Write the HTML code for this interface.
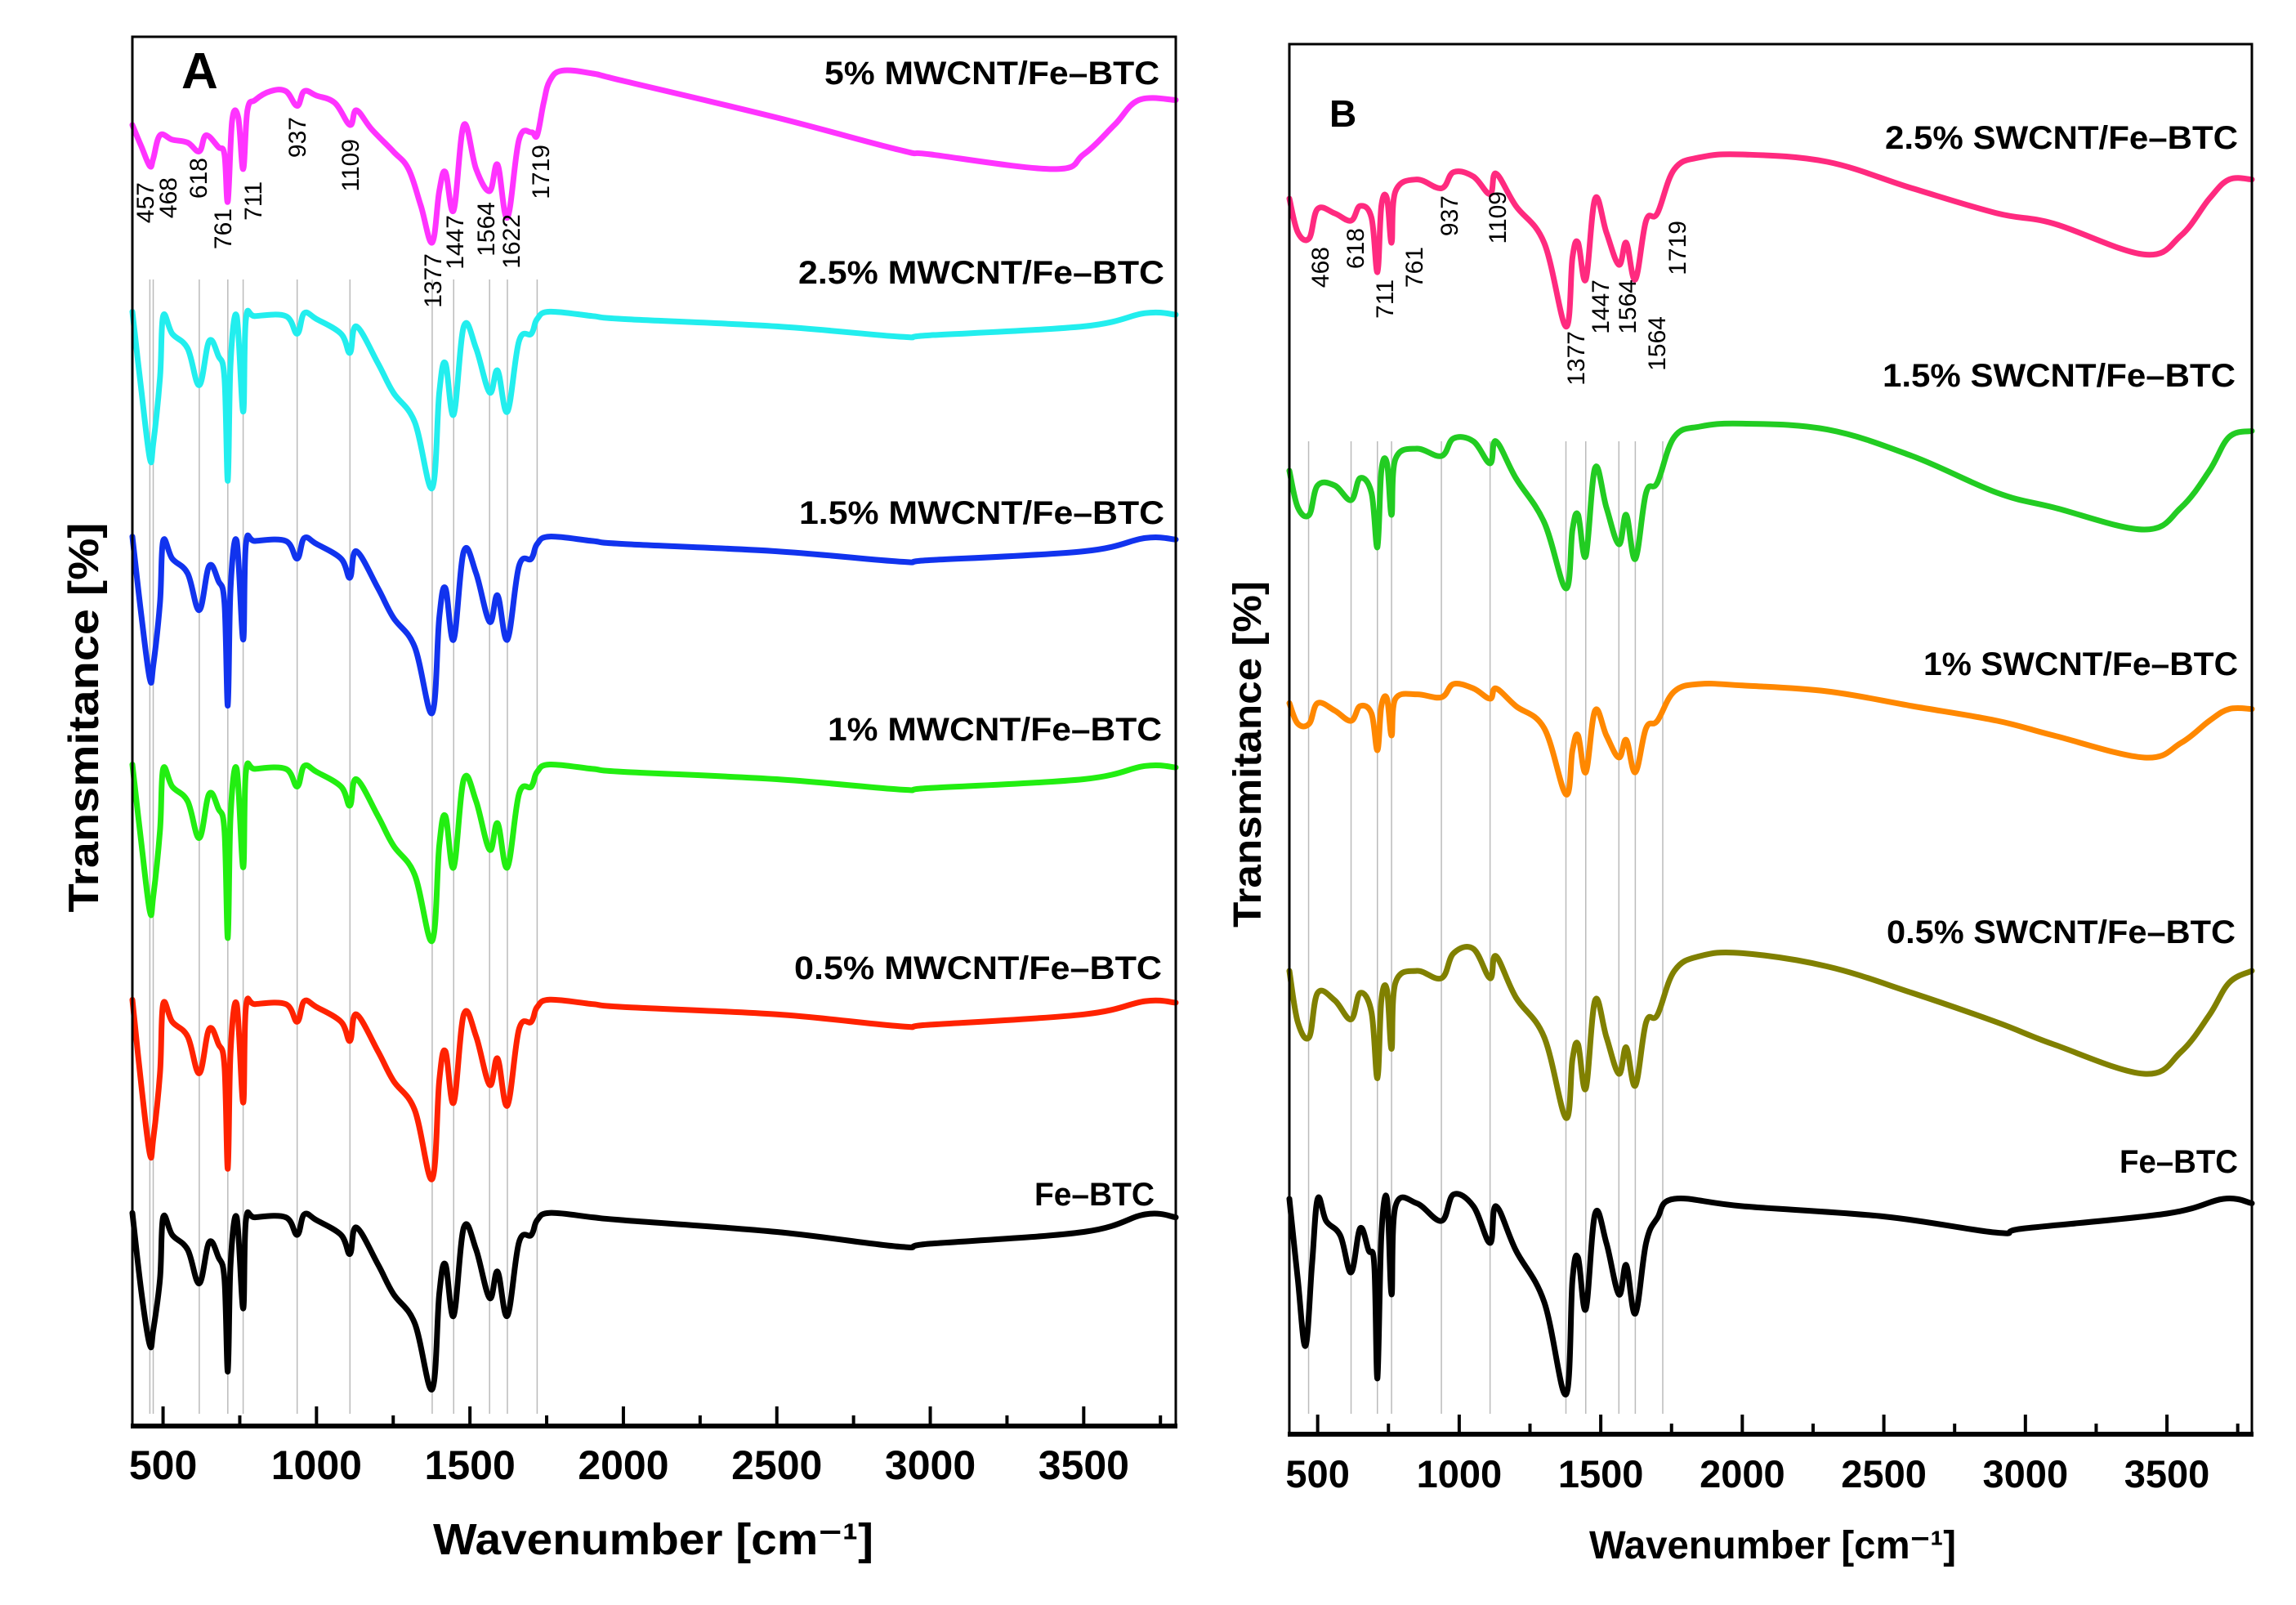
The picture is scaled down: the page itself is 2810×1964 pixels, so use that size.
<!DOCTYPE html>
<html><head><meta charset="utf-8"><style>
html,body{margin:0;padding:0;background:#fff;}
svg{display:block;}
text{font-family:"Liberation Sans",sans-serif;}
</style></head><body>
<svg id="fig" width="2810" height="1964" viewBox="0 0 2810 1964" xmlns="http://www.w3.org/2000/svg">
  <g id="panelA"></g>
  <g id="panelB"></g>
</svg>
<script>
// ---------- shared x data ----------
const xTicksMajor = [500,1000,1500,2000,2500,3000,3500];
const xTicksMinor = [750,1250,1750,2250,2750,3250,3750];
const refLinesA = [457,468,618,711,761,937,1109,1377,1447,1564,1622,1719];
const refLinesB = [468,618,711,761,937,1109,1377,1447,1564,1622,1719];

// ---------- Panel A (MWCNT) : relative transmittance (a.u.) + stack offsets ----------
const wnA = [400,430,457,468,490,500,530,580,618,650,680,700,711,720,740,761,770,800,900,937,960,1000,1080,1109,1130,1200,1250,1320,1377,1400,1420,1447,1480,1520,1564,1590,1622,1660,1700,1719,1760,1900,2000,2500,2900,3000,3500,3700,3800];
const feBtcA   = [0,-55,-90,-80,-45,-3,-15,-25,-48,-20,-30,-45,-108,-35,-3,-65,-5,-3,-3,-15,-1,-5,-15,-28,-10,-35,-55,-75,-120,-55,-35,-70,-10,-25,-58,-40,-70,-20,-15,-5,0,-3,-5,-13,-23,-21,-13,-1,-3];
const mw05A    = [0,-60,-105,-95,-50,-3,-15,-25,-50,-20,-30,-45,-115,-35,-3,-70,-5,-3,-3,-15,-1,-5,-15,-28,-10,-35,-55,-75,-122,-55,-35,-70,-10,-25,-58,-40,-72,-20,-15,-5,0,-3,-5,-10,-18,-17,-10,-1,-2];
const mw1A     = [0,-55,-100,-90,-45,-3,-15,-25,-50,-20,-30,-45,-118,-35,-3,-70,-5,-3,-3,-15,-1,-5,-15,-28,-10,-35,-55,-75,-120,-55,-35,-70,-10,-25,-58,-40,-70,-20,-15,-5,0,-3,-5,-10,-17,-16,-10,-1,-2];
const mw15A    = [0,-55,-97,-88,-45,-3,-15,-25,-50,-20,-30,-45,-115,-35,-3,-70,-5,-3,-3,-15,-1,-5,-15,-28,-10,-35,-55,-75,-120,-55,-35,-70,-10,-25,-58,-40,-70,-20,-15,-5,0,-3,-5,-10,-17,-16,-10,-1,-2];
const mw25A    = [0,-55,-100,-90,-45,-3,-15,-25,-50,-20,-30,-45,-115,-35,-3,-68,-5,-3,-3,-15,-1,-5,-15,-28,-10,-35,-55,-75,-120,-55,-35,-70,-10,-25,-55,-40,-68,-20,-15,-5,0,-3,-5,-10,-17,-16,-10,-1,-2];
const wnA5 = [400,430,457,468,490,530,580,618,640,680,700,711,725,745,761,775,800,850,900,937,960,1000,1060,1109,1130,1180,1250,1300,1340,1377,1400,1420,1447,1480,1520,1564,1590,1622,1660,1700,1719,1740,1760,1800,1900,2000,2500,2900,3000,3400,3500,3600,3680,3800];
const mw5A     = [-35,-50,-63,-58,-42,-45,-47,-53,-42,-50,-55,-87,-32,-30,-65,-25,-18,-12,-12,-22,-12,-15,-20,-35,-25,-38,-53,-65,-90,-115,-80,-67,-93,-35,-65,-80,-62,-98,-45,-40,-42,-20,-5,2,0,-5,-30,-52,-55,-65,-55,-35,-18,-18];
const seriesA = [
  {name:'fe-btc',      label:'Fe\u2013BTC',            color:'#000000', wn:wnA,  v:feBtcA, off:145},
  {name:'mwcnt-0-5',   label:'0.5% MWCNT/Fe\u2013BTC', color:'#ff2200', wn:wnA,  v:mw05A,  off:290},
  {name:'mwcnt-1',     label:'1% MWCNT/Fe\u2013BTC',   color:'#22ee11', wn:wnA,  v:mw1A,   off:450},
  {name:'mwcnt-1-5',   label:'1.5% MWCNT/Fe\u2013BTC', color:'#1133ee', wn:wnA,  v:mw15A,  off:605},
  {name:'mwcnt-2-5',   label:'2.5% MWCNT/Fe\u2013BTC', color:'#22eeee', wn:wnA,  v:mw25A,  off:758},
  {name:'mwcnt-5',     label:'5% MWCNT/Fe\u2013BTC',   color:'#ff33ff', wn:wnA5, v:mw5A,   off:920}
];

// ---------- Panel B (SWCNT) : absolute transmittance (a.u.) ----------
const wnBfe = [400,430,457,480,500,530,580,618,650,680,700,711,725,745,761,775,850,937,980,1050,1109,1130,1200,1300,1377,1400,1420,1447,1480,1520,1564,1590,1622,1660,1700,1760,2000,2500,2900,3000,3500,3700,3800];
const feBtcB = [160,105,60,115,160,145,135,110,140,125,115,38,135,160,95,155,157,145,163,155,130,155,125,90,27,105,120,85,150,130,95,115,82,130,147,160,155,148,137,140,150,160,157];
const wnB = [400,430,470,500,560,618,650,690,711,725,745,761,775,850,937,980,1050,1109,1130,1200,1300,1377,1400,1420,1447,1480,1520,1564,1590,1622,1660,1700,1760,1850,2000,2300,2600,2900,3100,3420,3550,3650,3720,3800];
const sw05B = [315,280,270,300,295,282,300,287,242,295,302,262,307,315,310,327,330,310,325,297,270,215,255,265,235,295,270,245,263,237,280,285,315,325,327,318,300,280,265,245,260,285,307,315];
const sw1B  = [497,483,483,497,492,485,495,490,465,495,500,475,500,503,501,510,507,500,507,495,480,435,465,475,450,492,475,460,472,450,480,485,505,510,509,505,495,485,475,460,470,485,493,493];
const sw15B = [655,630,625,645,645,635,650,640,603,655,660,625,663,670,665,677,675,660,675,650,620,575,615,625,597,657,630,605,625,595,640,647,678,685,687,683,665,640,630,615,630,655,678,682];
const sw25B = [840,817,813,833,830,825,835,827,790,835,840,810,845,853,847,858,855,843,857,835,810,753,800,810,785,840,817,795,810,785,825,830,860,868,870,865,847,830,823,802,815,840,853,853];
const seriesB = [
  {name:'fe-btc',     label:'Fe\u2013BTC',            color:'#000000', wn:wnBfe, v:feBtcB},
  {name:'swcnt-0-5',  label:'0.5% SWCNT/Fe\u2013BTC', color:'#808000', wn:wnB,   v:sw05B},
  {name:'swcnt-1',    label:'1% SWCNT/Fe\u2013BTC',   color:'#ff8800', wn:wnB,   v:sw1B},
  {name:'swcnt-1-5',  label:'1.5% SWCNT/Fe\u2013BTC', color:'#22cc22', wn:wnB,   v:sw15B},
  {name:'swcnt-2-5',  label:'2.5% SWCNT/Fe\u2013BTC', color:'#ff2a7f', wn:wnB,   v:sw25B}
];

const NS='http://www.w3.org/2000/svg';
function mk(parent, tag, attrs, txt){
  const e=document.createElementNS(NS,tag);
  for(const k in attrs) e.setAttribute(k,attrs[k]);
  if(txt!==undefined) e.textContent=txt;
  parent.appendChild(e); return e;
}
function lin(d0,d1,r0,r1){return v=>r0+(v-d0)/(d1-d0)*(r1-r0);}
function smoothPath(pts){
  let d='M'+pts[0][0].toFixed(1)+','+pts[0][1].toFixed(1);
  for(let i=0;i<pts.length-1;i++){
    const p0=pts[Math.max(0,i-1)],p1=pts[i],p2=pts[i+1],p3=pts[Math.min(pts.length-1,i+2)];
    const t=0.18;
    const c1x=p1[0]+(p2[0]-p0[0])*t, c1y=p1[1]+(p2[1]-p0[1])*t;
    const c2x=p2[0]-(p3[0]-p1[0])*t, c2y=p2[1]-(p3[1]-p1[1])*t;
    d+=' C'+c1x.toFixed(1)+','+c1y.toFixed(1)+' '+c2x.toFixed(1)+','+c2y.toFixed(1)+' '+p2[0].toFixed(1)+','+p2[1].toFixed(1);
  }
  return d;
}

function drawPanel(g, cfg){
  const X=lin(400,3800,cfg.left,cfg.right);
  const Y=lin(0,945,cfg.bottom,cfg.top);
  // reference lines
  cfg.refs.forEach(w=>{
    const l=mk(g,'line',{x1:X(w),x2:X(w),y1:cfg.refTop,y2:cfg.refBot,stroke:'#bbbbbb','stroke-width':1.5});
    
    
  });
  // series
  cfg.series.forEach(s=>{
    const pts=s.wn.map((w,i)=>[X(w),Y((s.off||0)+s.v[i])]);
    const p=mk(g,'path',{d:smoothPath(pts),fill:'none',stroke:s.color,'stroke-width':7,'stroke-linejoin':'round','stroke-linecap':'round'});
    
    
  });
  // frame
  const fr=mk(g,'rect',{x:cfg.left,y:cfg.top,width:cfg.right-cfg.left,height:cfg.bottom-cfg.top,fill:'none',stroke:'#000','stroke-width':3});
  
  
  const ax=mk(g,'line',{x1:cfg.left-2,x2:cfg.right+2,y1:cfg.bottom,y2:cfg.bottom,stroke:'#000','stroke-width':6});
  
  
  xTicksMajor.forEach(t=>{
    const l=mk(g,'line',{x1:X(t),x2:X(t),y1:cfg.bottom,y2:cfg.bottom-24,stroke:'#000','stroke-width':4});
    
    
    const tl=mk(g,'text',{x:X(t),y:cfg.tickY,'text-anchor':'middle','font-size':cfg.tickFs,'font-weight':'bold',fill:'#000'},String(t));
    
    
  });
  xTicksMinor.forEach(t=>{
    const l=mk(g,'line',{x1:X(t),x2:X(t),y1:cfg.bottom,y2:cfg.bottom-13,stroke:'#000','stroke-width':4});
    
    
  });
}

const gA=document.getElementById('panelA');
drawPanel(gA,{left:162,right:1439,top:45,bottom:1745,refs:refLinesA,refTop:342,refBot:1730,series:seriesA,tickY:1810,tickFs:50});
const gB=document.getElementById('panelB');
drawPanel(gB,{left:1578,right:2756,top:54,bottom:1755,refs:refLinesB,refTop:540,refBot:1730,series:seriesB,tickY:1820,tickFs:47});
</script>
<svg width="0" height="0" style="position:absolute"></svg>
<script>
// static text annotations
(function(){
  const NS='http://www.w3.org/2000/svg';
  const svg=document.getElementById('fig');
  function t(attrs,txt,name){
    const e=document.createElementNS(NS,'text');
    for(const k in attrs) e.setAttribute(k,attrs[k]);
    e.textContent=txt;
    
    
    svg.appendChild(e); return e;
  }
  // sample labels A
  [['5% MWCNT/Fe\u2013BTC',1009,1419,103],['2.5% MWCNT/Fe\u2013BTC',977,1425,347],['1.5% MWCNT/Fe\u2013BTC',978,1425,641],
   ['1% MWCNT/Fe\u2013BTC',1013,1422,906],['0.5% MWCNT/Fe\u2013BTC',972,1422,1198],['Fe\u2013BTC',1266,1413,1475]].forEach((a,i)=>{
    t({x:a[1],y:a[3],'font-size':40,'font-weight':'bold',textLength:a[2]-a[1],lengthAdjust:'spacingAndGlyphs'},a[0],'series-label-a-'+i);
  });
  [['2.5% SWCNT/Fe\u2013BTC',2307,2739,182],['1.5% SWCNT/Fe\u2013BTC',2304,2736,473],['1% SWCNT/Fe\u2013BTC',2354,2739,826],
   ['0.5% SWCNT/Fe\u2013BTC',2309,2736,1154],['Fe\u2013BTC',2594,2739,1435]].forEach((a,i)=>{
    t({x:a[1],y:a[3],'font-size':40,'font-weight':'bold',textLength:a[2]-a[1],lengthAdjust:'spacingAndGlyphs'},a[0],'series-label-b-'+i);
  });
  // peak labels
  [['457',177,223],['468',205,217],['618',242,193],['761',272,255],['711',309,222],['937',363,143],['1109',428,170],
   ['1377',529,310],['1447',556,263],['1564',594,247],['1622',625,262],['1719',661,177],
   ['468',1615,302],['618',1658,279],['711',1694,342],['761',1730,302],['937',1773,239],['1109',1832,234],
   ['1377',1928,405],['1447',1958,342],['1564',1991,342],['1564',2027,387],['1719',2052,270]].forEach((a,i)=>{
    const bx=a[1]+11, ty=a[2];
    t({x:bx,y:ty,'font-size':30,'text-anchor':'end',transform:'rotate(-90 '+bx+' '+ty+')'},a[0],'peak-label-'+a[0]+'-'+i);
  });
  t({x:222,y:108,'font-size':62,'font-weight':'bold'},'A','panel-a-letter');
  t({x:1627,y:155,'font-size':46,'font-weight':'bold'},'B','panel-b-letter');
  t({x:120,y:878,'font-size':52,'font-weight':'bold','text-anchor':'middle',textLength:477,lengthAdjust:'spacingAndGlyphs',transform:'rotate(-90 120 878)'},'Transmitance [%]','y-axis-title-a');
  t({x:1543,y:923,'font-size':48,'font-weight':'bold','text-anchor':'middle',textLength:424,lengthAdjust:'spacingAndGlyphs',transform:'rotate(-90 1543 923)'},'Transmitance [%]','y-axis-title-b');
  const xa=t({x:530,y:1902,'font-size':54,'font-weight':'bold',textLength:539,lengthAdjust:'spacingAndGlyphs'},'Wavenumber [cm\u207B\u00B9]','x-axis-title-a');
  const xb=t({x:1945,y:1907,'font-size':48,'font-weight':'bold',textLength:449,lengthAdjust:'spacingAndGlyphs'},'Wavenumber [cm\u207B\u00B9]','x-axis-title-b');
})();
</script>
</body></html>
